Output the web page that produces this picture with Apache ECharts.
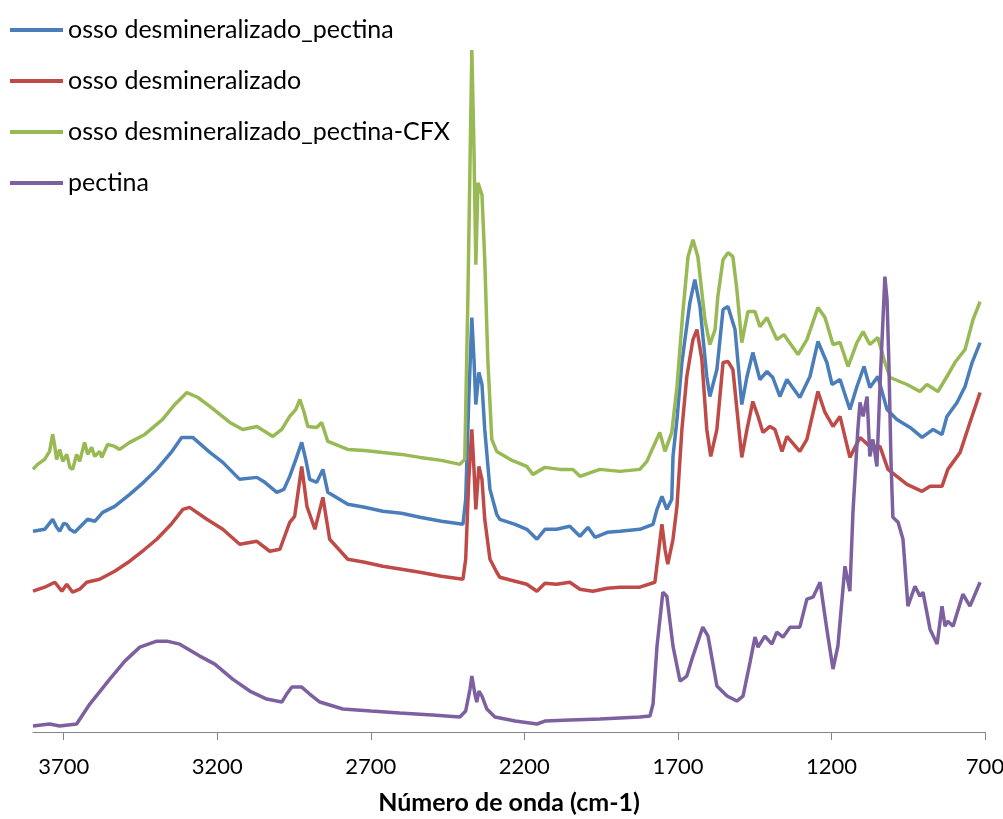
<!DOCTYPE html>
<html>
<head>
<meta charset="utf-8">
<script src="https://cdn.jsdelivr.net/npm/echarts@6/dist/echarts.min.js"></script>
<style>
html,body{margin:0;padding:0;background:#fff;}
#chart{width:1003px;height:819px;}
</style>
</head>
<body>
<div id="chart"></div>
<script>
// Series names (legend order)
var seriesNames = ['osso desmineralizado_pectina', 'osso desmineralizado', 'osso desmineralizado_pectina-CFX', 'pectina'];

// X-axis tick labels (wavenumber, cm-1)
var tickValues = [3700, 3200, 2700, 2200, 1700, 1200, 700];

// [wavenumber (cm-1), offset intensity]
var ossoPectina = [
[3800,2.01],[3762,2.03],[3736,2.13],[3723,2.05],[3713,2.01],[3700,2.09],[3690,2.08],[3680,2.03],[3664,2.00],[3648,2.05],
[3622,2.13],[3599,2.11],[3573,2.20],[3534,2.26],[3485,2.38],[3440,2.50],[3397,2.63],[3350,2.80],[3316,2.95],[3280,2.95],[3224,2.80],[3182,2.70],
[3127,2.53],[3071,2.55],[3045,2.50],[3006,2.40],[2983,2.43],[2964,2.56],[2944,2.73],[2925,2.90],[2912,2.73],[2899,2.53],
[2876,2.50],[2856,2.63],[2840,2.40],[2775,2.28],[2720,2.25],[2661,2.21],[2600,2.19],[2540,2.15],[2470,2.11],[2400,2.08],[2391,2.33],[2381,3.33],[2371,4.15],
[2364,3.73],[2358,3.28],[2348,3.60],[2338,3.48],[2329,3.03],[2312,2.43],[2290,2.18],[2280,2.13],[2230,2.08],[2192,2.03],[2159,1.93],
[2133,2.03],[2095,2.03],[2052,2.06],[2019,1.96],[1993,2.05],[1970,1.95],[1930,2.00],[1889,2.01],[1824,2.03],[1781,2.08],[1768,2.23],[1752,2.36],
[1736,2.23],[1720,2.33],[1716,2.76],[1703,3.13],[1687,3.70],[1661,4.30],[1645,4.53],[1628,4.26],[1606,3.56],[1596,3.36],
[1573,3.63],[1553,4.23],[1537,4.26],[1514,4.03],[1492,3.28],[1475,3.56],[1456,3.80],[1433,3.53],[1410,3.61],[1391,3.55],
[1368,3.36],[1345,3.53],[1303,3.35],[1270,3.56],[1244,3.91],[1215,3.70],[1198,3.48],[1172,3.53],[1140,3.23],[1117,3.46],
[1094,3.66],[1075,3.45],[1049,3.56],[1019,3.23],[987,3.13],[944,3.05],[905,2.95],[869,3.03],[840,2.98],[824,3.16],
[791,3.30],[765,3.46],[742,3.70],[716,3.90]
];

var osso = [
[3800,1.41],[3762,1.45],[3729,1.50],[3706,1.41],[3690,1.48],[3671,1.40],[3648,1.43],[3625,1.50],[3583,1.53],[3534,1.61],
[3485,1.71],[3440,1.82],[3397,1.93],[3350,2.08],[3312,2.23],[3290,2.25],[3234,2.13],[3182,2.03],[3127,1.88],[3071,1.91],[3029,1.81],[2996,1.83],
[2964,2.10],[2948,2.16],[2925,2.66],[2908,2.26],[2882,2.03],[2856,2.35],[2834,1.93],[2775,1.73],[2720,1.70],[2661,1.66],[2600,1.63],[2540,1.60],
[2470,1.56],[2400,1.53],[2391,1.73],[2381,2.53],[2371,3.03],[2364,2.63],[2358,2.23],[2348,2.66],[2338,2.53],[2329,2.13],[2312,1.73],
[2290,1.60],[2280,1.55],[2230,1.51],[2192,1.48],[2159,1.41],[2133,1.49],[2095,1.48],[2052,1.50],[2019,1.43],[1977,1.41],[1930,1.44],[1889,1.45],[1824,1.45],
[1775,1.50],[1752,2.08],[1742,1.83],[1733,1.68],[1716,1.93],[1703,2.26],[1687,3.03],[1671,3.56],[1651,3.93],[1638,4.03],
[1622,3.73],[1606,3.03],[1593,2.76],[1573,3.03],[1553,3.70],[1537,3.71],[1521,3.63],[1492,2.75],[1475,3.03],[1456,3.31],
[1439,3.16],[1423,3.00],[1400,3.06],[1384,3.03],[1361,2.81],[1345,2.96],[1303,2.81],[1280,2.93],[1244,3.41],[1221,3.20],
[1195,3.06],[1172,3.16],[1140,2.75],[1107,2.95],[1075,2.86],[1042,2.86],[1016,2.63],[987,2.56],[954,2.48],[905,2.41],
[879,2.46],[840,2.46],[821,2.63],[781,2.80],[749,3.10],[716,3.40]
];

var ossoPectinaCFX = [
[3800,2.63],[3785,2.68],[3762,2.73],[3746,2.81],[3736,2.98],[3729,2.86],[3723,2.73],[3713,2.83],[3703,2.71],[3690,2.78],
[3680,2.65],[3671,2.63],[3658,2.78],[3648,2.71],[3632,2.90],[3622,2.78],[3609,2.85],[3599,2.76],[3583,2.81],[3576,2.75],
[3557,2.88],[3534,2.86],[3518,2.83],[3485,2.90],[3436,2.98],[3378,3.13],[3338,3.28],[3299,3.40],[3263,3.35],[3224,3.26],
[3159,3.10],[3117,3.03],[3071,3.06],[3045,3.01],[3019,2.96],[2990,3.03],[2964,3.16],[2944,3.23],[2931,3.33],[2918,3.21],
[2905,3.06],[2876,3.05],[2860,3.10],[2840,2.91],[2775,2.83],[2720,2.82],[2661,2.80],[2600,2.78],[2540,2.75],[2470,2.72],[2410,2.68],[2394,2.73],[2384,4.33],
[2371,6.83],[2364,5.83],[2358,4.68],[2351,5.50],[2338,5.38],[2329,4.73],[2319,3.73],[2306,2.93],[2290,2.81],[2240,2.72],[2192,2.66],
[2172,2.58],[2133,2.65],[2084,2.63],[2042,2.63],[2019,2.56],[1954,2.63],[1889,2.61],[1824,2.63],[1801,2.71],[1781,2.85],
[1759,3.00],[1742,2.81],[1736,2.83],[1720,3.00],[1703,3.46],[1684,4.20],[1667,4.76],[1651,4.93],[1635,4.76],[1612,4.13],
[1596,3.88],[1579,4.03],[1570,4.36],[1553,4.73],[1537,4.80],[1521,4.76],[1508,4.43],[1492,3.90],[1472,4.21],[1449,4.21],
[1433,4.06],[1410,4.15],[1378,3.93],[1355,3.98],[1309,3.78],[1280,3.93],[1244,4.25],[1221,4.15],[1195,3.88],[1172,3.90],
[1146,3.66],[1117,3.90],[1097,4.01],[1075,3.88],[1049,3.95],[1026,3.70],[1009,3.55],[954,3.48],[912,3.41],[889,3.48],
[853,3.41],[824,3.56],[798,3.70],[765,3.83],[739,4.13],[716,4.31]
];

var pectina = [
[3800,0.06],[3746,0.08],[3713,0.06],[3658,0.08],[3615,0.28],[3550,0.53],[3501,0.71],[3452,0.85],[3397,0.91],[3364,0.91],
[3322,0.88],[3257,0.76],[3208,0.68],[3150,0.53],[3094,0.41],[3039,0.33],[2990,0.30],[2974,0.38],[2957,0.45],[2925,0.45],
[2899,0.38],[2866,0.30],[2791,0.23],[2700,0.21],[2606,0.19],[2500,0.17],[2410,0.15],[2391,0.21],[2377,0.43],[2371,0.56],[2361,0.38],[2355,0.30],
[2348,0.41],[2338,0.36],[2322,0.23],[2296,0.15],[2230,0.11],[2159,0.08],[2133,0.11],[2050,0.12],[1954,0.13],[1824,0.15],[1791,0.16],[1781,0.28],
[1768,0.86],[1749,1.40],[1736,1.36],[1716,0.86],[1693,0.51],[1671,0.56],[1651,0.76],[1619,1.05],[1602,0.96],[1573,0.46],
[1540,0.36],[1508,0.31],[1488,0.36],[1465,0.70],[1449,0.95],[1439,0.85],[1417,0.96],[1394,0.88],[1378,1.00],[1358,0.95],
[1335,1.05],[1303,1.05],[1280,1.33],[1260,1.35],[1237,1.50],[1215,1.03],[1195,0.63],[1179,0.86],[1156,1.66],[1140,1.41],
[1130,2.20],[1114,3.03],[1107,3.30],[1097,3.16],[1084,3.36],[1075,2.76],[1065,2.93],[1052,2.66],[1042,3.46],[1026,4.56],
[1019,4.33],[1013,3.70],[1006,2.70],[1000,2.15],[983,2.10],[967,1.93],[951,1.26],[928,1.46],[912,1.36],[902,1.40],
[879,1.03],[856,0.88],[840,1.26],[830,1.06],[821,1.11],[804,1.06],[772,1.38],[749,1.26],[716,1.50]
];

var colors = ['#4A7EBB', '#BE4B48', '#98B954', '#7D60A0'];
var seriesData = [ossoPectina, osso, ossoPectinaCFX, pectina];

var chart = echarts.init(document.getElementById('chart'));
var FONT = 'Lato';
chart.setOption({
  animation: false,
  color: colors,
  grid: { left: 33, right: 18, top: 33, bottom: 87, outerBoundsMode: 'none', containLabel: false },
  legend: {
    orient: 'vertical',
    left: 5, top: 12,
    icon: 'rect',
    itemWidth: 53, itemHeight: 4,
    itemGap: 25,
    data: seriesNames,
    textStyle: { fontFamily: FONT, fontSize: 25, color: '#000', lineHeight: 26 }
  },
  xAxis: {
    type: 'value',
    inverse: true,
    min: 700, max: 3800,
    interval: 500,
    name: 'Número de onda (cm-1)',
    nameLocation: 'middle',
    nameGap: 58,
    nameTextStyle: { fontFamily: FONT, fontSize: 25, fontWeight: 'bold', color: '#000' },
    axisLine: { lineStyle: { color: '#868686', width: 1 } },
    axisTick: { show: true, length: 8, lineStyle: { color: '#868686' }, customValues: tickValues },
    axisLabel: {
      customValues: tickValues, fontFamily: FONT, fontSize: 22, color: '#000', margin: 24,
      formatter: function (v) { return String(v); }
    },
    splitLine: { show: false }
  },
  yAxis: {
    type: 'value', min: 0, max: 7,
    show: false
  },
  series: seriesData.map(function (d, i) {
    return {
      name: seriesNames[i],
      type: 'line',
      data: d,
      showSymbol: false,
      symbol: 'none',
      lineStyle: { width: 3.5, color: colors[i] },
      itemStyle: { color: colors[i] }
    };
  })
});
</script>
</body>
</html>
